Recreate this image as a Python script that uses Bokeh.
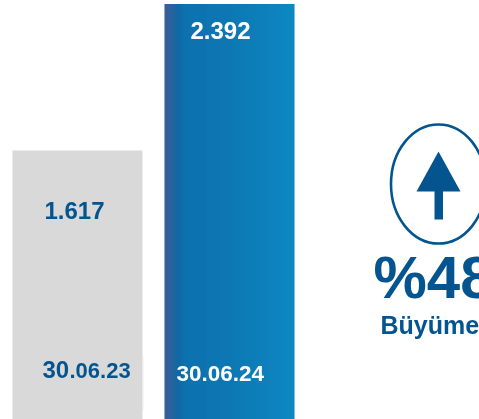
from bokeh.plotting import figure
from bokeh.models import Range1d
from bokeh.core.properties import value
from bokeh.embed import file_html
from bokeh.resources import INLINE

dates = ["30.06.23", "30.06.24"]
values = [1617, 2392]
value_labels = ["1.617", "2.392"]
growth = "%48"
growth_label = "Büyüme"

GRAY = "#D9D9D9"
DARK = "#04558F"
FONT = value("Liberation Sans")

p = figure(width=479, height=419, output_backend="svg", toolbar_location=None,
           x_range=Range1d(0, 479), y_range=Range1d(195.5, 2410),
           x_axis_type=None, y_axis_type=None, min_border=0,
           outline_line_color=None, background_fill_color="white", border_fill_color="white")
p.styles = {"position": "fixed", "left": "0px", "top": "0px"}
p.grid.visible = False
p.extra_y_ranges = {"px": Range1d(419, 0)}

# gray bar
p.quad(left=[12], right=[142], bottom=[0], top=[values[0]], fill_color=GRAY, line_color=None)
p.quad(left=[142], right=[143], bottom=[356], top=[409], y_range_name="px", fill_color="#ECECEC", line_color=None)

# blue bar with a horizontal gradient, built from one-pixel strips
stops = [(0, (46, 86, 150)), (5, (40, 88, 150)), (14, (0, 98, 160)), (20, (0, 106, 170)),
         (70, (0, 114, 176)), (130, (0, 130, 190))]
def col(t):
    for (a, ca), (b, cb) in zip(stops, stops[1:]):
        if a <= t <= b:
            f = (t - a) / (b - a)
            return "#%02x%02x%02x" % tuple(round(u + (v - u) * f) for u, v in zip(ca, cb))
    return "#%02x%02x%02x" % stops[-1][1]
L = 164
lefts = [L + i for i in range(130)]
rights = [l + 1.4 if i < 129 else l + 1 for i, l in enumerate(lefts)]
cols = [col(i + 0.5) for i in range(130)]
p.quad(left=lefts, right=rights, bottom=[0] * 130, top=[values[1]] * 130, fill_color=cols, line_color=None)

def txt(x, y, s, size, color):
    # y is the visual centre of the digits
    p.text(x=[x], y=[y], text=[s], y_range_name="px", text_font=FONT, text_font_style="bold",
           text_font_size=f"{size}px", text_color=color, text_align="left", text_baseline="middle")

txt(44, 210, value_labels[0], 24, DARK)
txt(190, 30, value_labels[1], 24, "white")
txt(42, 369, dates[0][:2], 24, DARK)
txt(69, 369.5, dates[0][2:], 22, DARK)
txt(176, 373, dates[1], 22.5, "white")

# growth marker
p.ellipse(x=[438], y=[183.5], width=[95], height=[119], y_range_name="px",
          fill_color=None, line_color=DARK, line_width=2.6)
p.patch(x=[438, 460, 442.5, 442.5, 434, 434, 416], y=[151, 191, 191, 219, 219, 191, 191],
        y_range_name="px", fill_color=DARK, line_color=None)
txt(373, 277, growth, 60, DARK)
txt(380, 324, growth_label, 25, DARK)

open("out.html", "w").write(file_html(p, INLINE))
